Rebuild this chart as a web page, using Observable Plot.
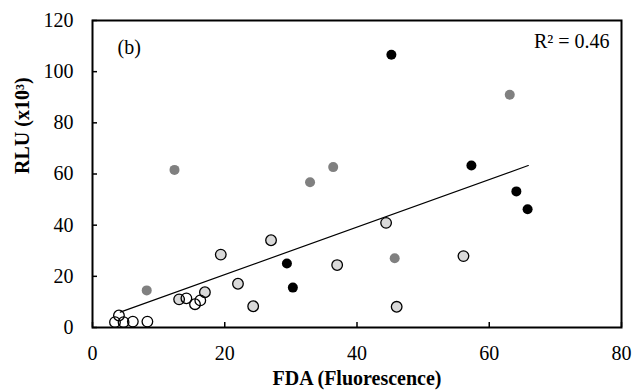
<!DOCTYPE html>
<html>
<head>
<meta charset="utf-8">
<script src="https://cdn.jsdelivr.net/npm/d3@7"></script>
<script src="https://cdn.jsdelivr.net/npm/@observablehq/plot@0.6"></script>
<style>
  html, body { margin: 0; padding: 0; background: #fff; }
  svg, svg text { font-family: "Liberation Serif", "Times New Roman", serif !important; }
</style>
</head>
<body>
<div id="chart"></div>
<script>
// Series
const blackX = [45.2, 57.3, 64.1, 65.8, 29.4, 30.3];
const blackY = [106.6, 63.3, 53.2, 46.2, 25.0, 15.6];

const grayX = [12.4, 32.9, 36.4, 63.1, 45.7, 8.2];
const grayY = [61.6, 56.8, 62.7, 91.0, 27.1, 14.5];

const lightX = [44.4, 27.0, 37.0, 56.1, 24.3, 46.0, 22.0, 19.4, 13.1, 17.0];
const lightY = [40.9, 34.1, 24.4, 27.9, 8.3, 8.1, 17.1, 28.5, 11.0, 13.8];

const openX = [4.0, 3.4, 4.7, 6.1, 8.3, 14.2, 15.5, 16.3];
const openY = [4.7, 2.1, 2.1, 2.3, 2.3, 11.4, 9.1, 10.6];

// Trend line end points as drawn in the reference
const trendX = [4.2, 65.9];
const trendY = [6.0, 63.3];

const xTicks = [0, 20, 40, 60, 80];
const yTicks = [0, 20, 40, 60, 80, 100, 120];

const panelLabel = "(b)";
const r2Label = "R\u00B2 = 0.46";
const xLabel = "FDA (Fluorescence)";
const yLabel = "RLU (x10\u00B3)";

const font = "'Liberation Serif', 'Times New Roman', serif";
const pts = (xs, ys) => xs.map((x, i) => ({x, y: ys[i]}));
const trend = pts(trendX, trendY);

const chart = Plot.plot({
  width: 633,
  height: 391,
  marginLeft: 92,
  marginRight: 12,
  marginTop: 20,
  marginBottom: 64,
  style: {fontFamily: font, fontSize: "20px", color: "#000", background: "#fff"},
  x: {domain: [0, 80]},
  y: {domain: [0, 120]},
  marks: [
    Plot.axisX({ticks: xTicks, tickSize: -5, tickPadding: 23, strokeWidth: 1.5, label: null, fontSize: 20, fontFamily: font}),
    Plot.axisY({ticks: yTicks, tickSize: -5, tickPadding: 24, strokeWidth: 1.5, label: null, fontSize: 20, fontFamily: font}),
    Plot.lineY(trend, {x: "x", y: "y", stroke: "#000", strokeWidth: 1.2}),
    Plot.dot(pts(grayX, grayY), {x: "x", y: "y", r: 5, fill: "#808080", stroke: "none"}),
    Plot.dot(pts(blackX, blackY), {x: "x", y: "y", r: 5, fill: "#000", stroke: "none"}),
    Plot.dot(pts(lightX, lightY), {x: "x", y: "y", r: 5.3, fill: "#d9d9d9", stroke: "#000", strokeWidth: 1.3}),
    Plot.dot(pts(openX, openY), {x: "x", y: "y", r: 5.3, fill: "none", stroke: "#000", strokeWidth: 1.3}),
    Plot.frame({stroke: "#000", strokeWidth: 2}),
    Plot.text([panelLabel], {frameAnchor: "top-left", dx: 25, dy: 27, text: d => d, fontSize: 20, fontFamily: font, textAnchor: "start", lineAnchor: "middle"}),
    Plot.text([r2Label], {frameAnchor: "top-right", dx: -12, dy: 21, text: d => d, fontSize: 20, fontFamily: font, textAnchor: "end", lineAnchor: "middle"}),
    Plot.text([xLabel], {frameAnchor: "bottom", dy: 51, text: d => d, fontSize: 20, fontFamily: font, fontWeight: "bold", lineAnchor: "middle"}),
    Plot.text([yLabel], {frameAnchor: "left", dx: -70, text: d => d, fontSize: 20, fontFamily: font, fontWeight: "bold", rotate: -90, lineAnchor: "middle"})
  ]
});
document.getElementById("chart").appendChild(chart);
</script>
</body>
</html>
